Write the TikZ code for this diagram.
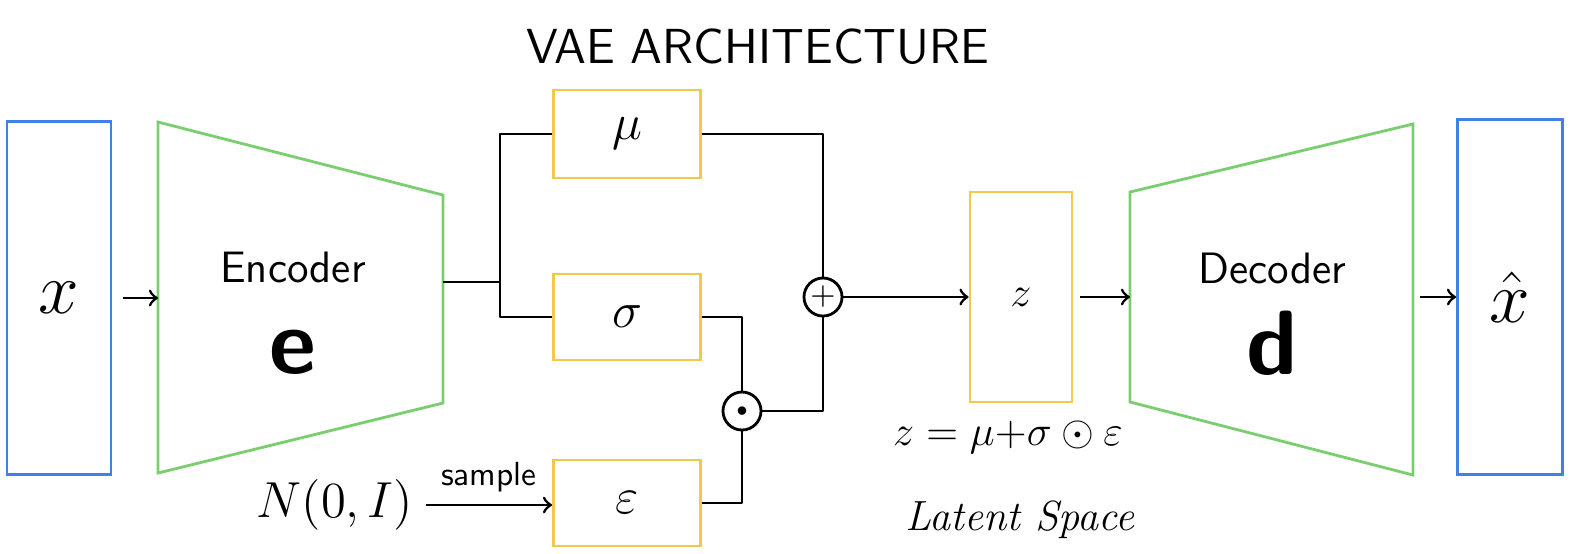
\documentclass[tikz,border=0pt]{standalone}
\usepackage{amsmath,amssymb}
\usetikzlibrary{positioning}
\definecolor{vaeblue}{RGB}{66,128,232}
\definecolor{vaegreen}{RGB}{122,206,112}
\definecolor{vaeyellow}{RGB}{244,200,72}
\tikzset{
  databox/.style={draw=vaeblue,thick,minimum width=1.04cm,minimum height=3.53cm,inner sep=0pt},
  latbox/.style={draw=vaeyellow,thick,minimum width=1.47cm,minimum height=0.86cm,inner sep=0pt},
  opnode/.style={circle,draw,thick,minimum size=0.38cm,inner sep=0pt},
  link/.style={thick,line join=round}
}
\begin{document}
\begin{tikzpicture}[x=0.01cm,y=-0.01cm]
\useasboundingbox (0,0) rectangle (1572,553);
\node[font=\sffamily\fontsize{14}{17}\selectfont] (title) at (758,47) {VAE ARCHITECTURE};
% input and output
\node[databox] (xin) at (59,298) {\fontsize{20}{24}\selectfont$x$};
\node[databox,minimum height=3.55cm,minimum width=1.05cm] (xout) at (1510,297) {\fontsize{20}{24}\selectfont$\hat{x}$};
% encoder and decoder
\draw[vaegreen,thick] (158,122) -- (443,195) -- (443,403) -- (158,473) -- cycle;
\draw[vaegreen,thick] (1130,192) -- (1413,124) -- (1413,475) -- (1130,402) -- cycle;
\coordinate (encin) at (158,298);
\coordinate (encout) at (443,282);
\coordinate (split) at (500,282);
\coordinate (decin) at (1130,297);
\coordinate (decout) at (1413,297);
\node[align=center,font=\sffamily\fontsize{12.5}{15}\selectfont] (enclabel) at (293,267) {Encoder};
\node[align=center,font=\sffamily\bfseries\fontsize{26}{30}\selectfont] (e) at (293,352) {e};
\node[align=center,font=\sffamily\fontsize{12.5}{15}\selectfont] (declabel) at (1272,268) {Decoder};
\node[align=center,font=\sffamily\bfseries\fontsize{26}{30}\selectfont] (d) at (1272,343) {d};
% latent boxes
\node[latbox,minimum height=0.88cm] (mu) at (627,134) {\fontsize{15}{18}\selectfont$\mu$};
\node[latbox] (sigma) at (627,317) {\fontsize{15}{18}\selectfont$\sigma$};
\node[latbox] (eps) at (627,503) {\fontsize{15}{18}\selectfont$\varepsilon$};
\node[opnode] (plus) at (823,297) {\small$+$};
\node[opnode] (odot) at (742,411) {\tiny$\bullet$};
\node[latbox,minimum width=1.02cm,minimum height=2.1cm] (z) at (1021,297) {\fontsize{13}{16}\selectfont$z$};
\node[align=center] (eq) at (1008,437) {\fontsize{11.5}{14}\selectfont$z=\mu{+}\sigma\odot\varepsilon$};
\node[align=center,font=\itshape\fontsize{12}{14}\selectfont] (latent) at (1020,520) {Latent Space};
\node[align=center] (noise) at (335,505) {\fontsize{14}{17}\selectfont$N(0,I)$};

\draw[thick,shorten <=3pt] [->] (xin.east) -- (encin);
\draw[link] (encout) -- (split);
\draw[link] (mu.west) -| (split) |- (sigma.west);
\draw[link] (mu.east) -| (plus.north);
\draw[link] (sigma.east) -| (odot.north);
\draw[link] (eps.east) -| (odot.south);
\draw[link] (odot.east) -| (plus.south);
\draw[thick] [->] (plus.east) -- (z.west);
\draw[thick,shorten <=2pt] [->] (z.east) -- (decin);
\draw[thick,shorten <=2pt] [->] (decout) -- (xout.west);
\draw[thick] [->] (noise.east) -- node[above,font=\sffamily\fontsize{9.5}{11}\selectfont]{sample} (noise.east -| eps.west);
\end{tikzpicture}
\end{document}
